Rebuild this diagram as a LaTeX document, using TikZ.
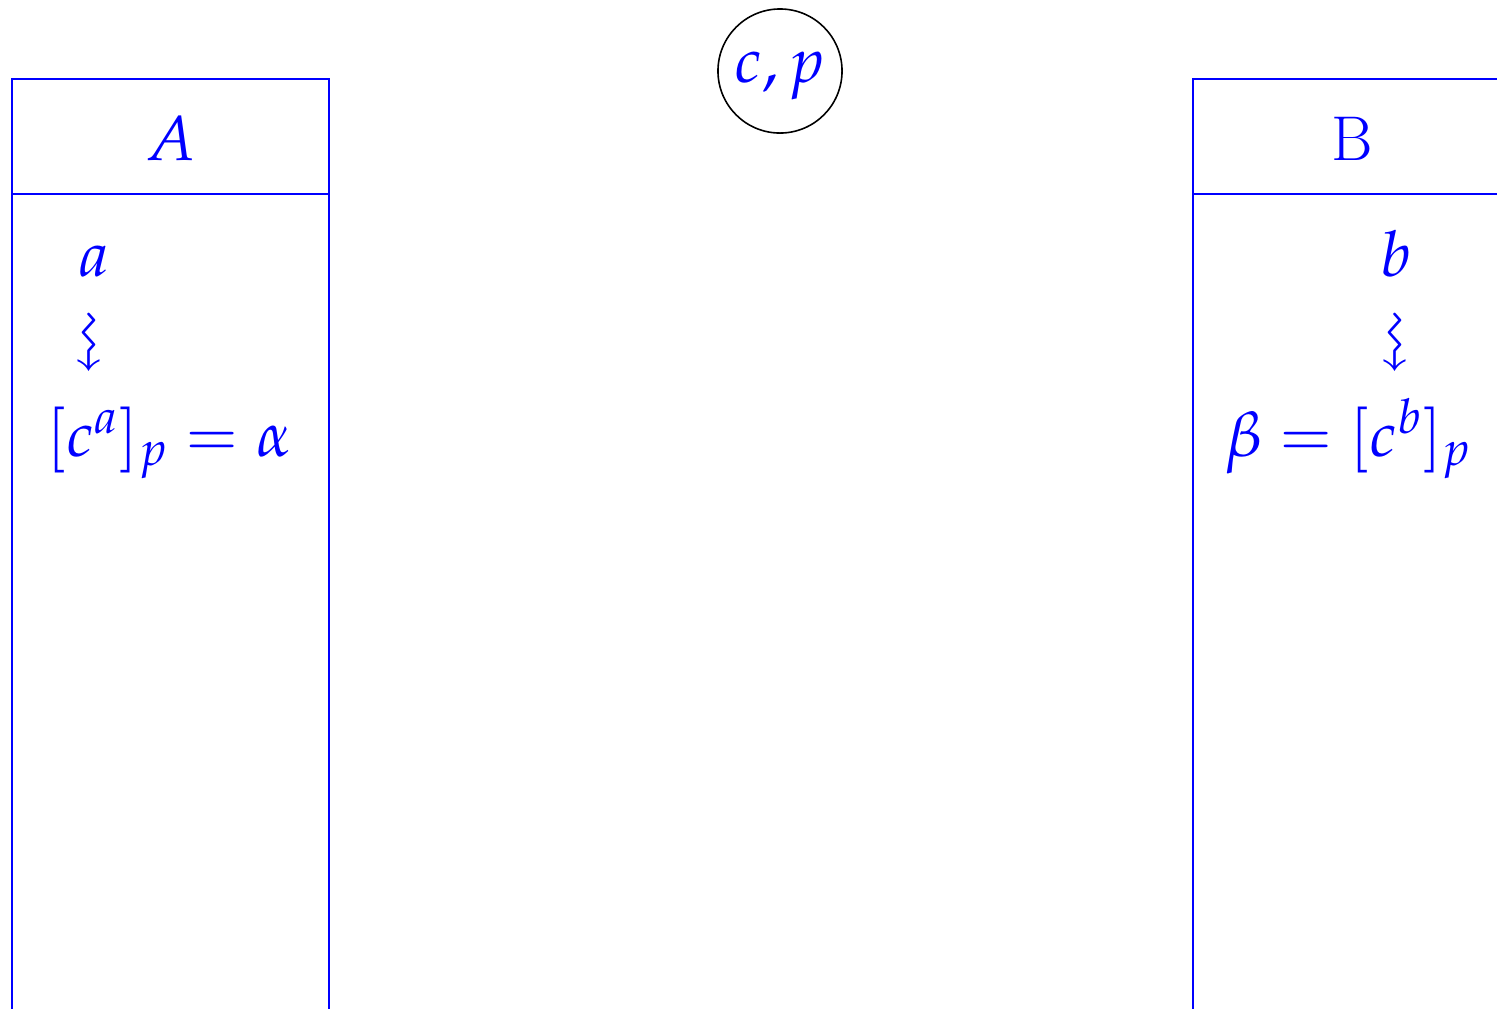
\documentclass[tikz,border=0pt]{standalone}
\usepackage{mathpazo}
\usepackage{amssymb}
\begin{document}
\begin{tikzpicture}[x=0.01cm,y=-0.01cm,
  font=\fontsize{18}{22}\selectfont,
  txt/.style={text=blue,inner sep=0pt},
  ln/.style={blue,line width=0.7pt},
  sq/.style={text=blue,inner sep=0pt}]
\useasboundingbox (0,0) rectangle (1497,1008);
% left lane A
\coordinate (AtlL) at (12,79);
\coordinate (AtlR) at (329,79);
\coordinate (AhL) at (12,194);
\coordinate (AhR) at (329,194);
\coordinate (AbL) at (12,1030);
\coordinate (AbR) at (329,1030);
\draw[ln] (AbL) -- (AtlL) -- (AtlR) -- (AbR);
\draw[ln] (AhL) -- (AhR);
\node[txt,anchor=base] (Aname) at (171,160) {$A$};
\node[txt,anchor=base] (Aa) at (94,276) {$a$};
\node[sq] (Aarr) at (85,342) {\rotatebox{-90}{$\rightsquigarrow$}};
\node[txt,anchor=base west] (Aeq) at (46,456) {$[c^{a}]_{p}=\alpha$};
% right lane B
\coordinate (BtlL) at (1193,79);
\coordinate (BtlR) at (1511,79);
\coordinate (BhL) at (1193,194);
\coordinate (BhR) at (1511,194);
\coordinate (BbL) at (1193,1030);
\coordinate (BbR) at (1511,1030);
\draw[ln] (BbL) -- (BtlL) -- (BtlR) -- (BbR);
\draw[ln] (BhL) -- (BhR);
\node[txt,anchor=base] (Bname) at (1352,160) {B};
\node[txt,anchor=base] (Bb) at (1396,276) {$b$};
\node[sq] (Barr) at (1391,342) {\rotatebox{-90}{$\rightsquigarrow$}};
\node[txt,anchor=base west] (Beq) at (1224,456) {$\beta=[c^{b}]_{p}$};
% shared circle
\node[draw=black,line width=0.45pt,circle,minimum size=1.24cm,inner sep=0pt] (cp) at (780,71) {};
\node[txt,anchor=base] (cptext) at (780,82) {$c,p$};
\end{tikzpicture}
\end{document}
